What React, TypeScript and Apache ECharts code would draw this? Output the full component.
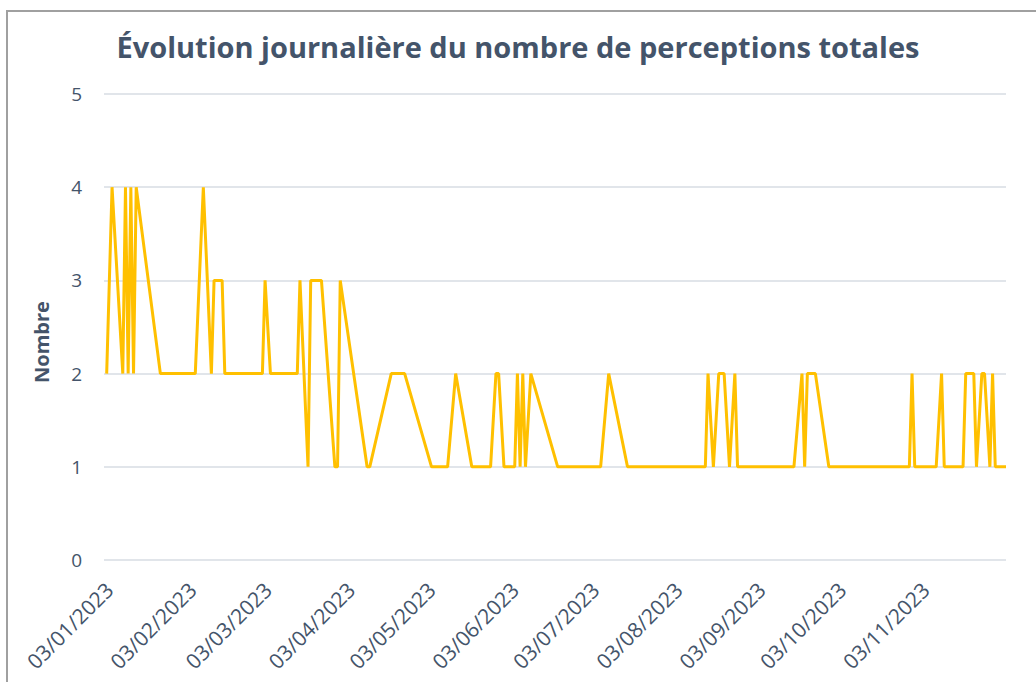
import React, { useEffect, useRef } from "react";
import * as echarts from "echarts";

const dates: string[] = [
  "2023-01-02", "2023-01-04", "2023-01-08", "2023-01-09", "2023-01-10", "2023-01-11", "2023-01-12", "2023-01-13",
  "2023-01-22", "2023-02-04", "2023-02-07", "2023-02-10", "2023-02-11", "2023-02-14", "2023-02-15",
  "2023-03-01", "2023-03-02", "2023-03-04", "2023-03-14", "2023-03-15", "2023-03-18", "2023-03-19", "2023-03-23",
  "2023-03-28", "2023-03-29", "2023-03-30", "2023-04-09", "2023-04-10", "2023-04-18", "2023-04-23",
  "2023-05-03", "2023-05-09", "2023-05-12", "2023-05-18", "2023-05-25", "2023-05-27", "2023-05-28", "2023-05-30",
  "2023-06-03", "2023-06-04", "2023-06-05", "2023-06-06", "2023-06-07", "2023-06-09", "2023-06-19",
  "2023-07-05", "2023-07-08", "2023-07-15", "2023-08-13", "2023-08-14", "2023-08-16", "2023-08-18", "2023-08-20",
  "2023-08-22", "2023-08-24", "2023-08-25", "2023-09-15", "2023-09-18", "2023-09-19", "2023-09-20", "2023-09-23",
  "2023-09-28", "2023-10-28", "2023-10-29", "2023-10-30", "2023-11-07", "2023-11-09", "2023-11-10", "2023-11-17",
  "2023-11-18", "2023-11-21", "2023-11-22", "2023-11-24", "2023-11-25", "2023-11-27", "2023-11-28", "2023-11-29",
  "2023-12-03",
];

const values: number[] = [
  2, 4, 2, 4, 2, 4, 2, 4,
  2, 2, 4, 2, 3, 3, 2,
  2, 3, 2, 2, 3, 1, 3, 3,
  1, 1, 3, 1, 1, 2, 2,
  1, 1, 2, 1, 1, 2, 2, 1,
  1, 2, 1, 2, 1, 2, 1,
  1, 2, 1, 1, 2, 1, 2, 2,
  1, 2, 1, 1, 2, 1, 2, 2,
  1, 1, 2, 1, 1, 2, 1, 1,
  2, 2, 1, 2, 2, 1, 2, 1,
  1,
];

const tickDates: string[] = [
  "2023-01-03", "2023-02-03", "2023-03-03", "2023-04-03", "2023-05-03", "2023-06-03",
  "2023-07-03", "2023-08-03", "2023-09-03", "2023-10-03", "2023-11-03",
];

const axisStart = "2023-01-01";
const axisEnd = "2023-12-03";

const titleText = "Évolution journalière du nombre de perceptions totales";
const yName = "Nombre";

function ts(s: string): number {
  const [y, m, d] = s.split("-").map(Number);
  return Date.UTC(y, m - 1, d);
}

function fmt(v: number): string {
  const d = new Date(v);
  const dd = String(d.getUTCDate()).padStart(2, "0");
  const mm = String(d.getUTCMonth() + 1).padStart(2, "0");
  return `${dd}/${mm}/${d.getUTCFullYear()}`;
}

const TEXT = "#44546A";
const FONT = "'Open Sans', 'Noto Sans', sans-serif";

export default function App() {
  const ref = useRef<HTMLDivElement>(null);

  useEffect(() => {
    if (!ref.current) return;
    const chart = echarts.init(ref.current, undefined, { renderer: "svg" });
    chart.setOption({
      animation: false,
      textStyle: { fontFamily: FONT },
      title: {
        text: titleText,
        left: "center",
        top: 27,
        textStyle: { fontFamily: FONT, fontSize: 29, fontWeight: "bold", color: TEXT },
      },
      grid: { left: 104, right: 30, top: 94, bottom: 122, containLabel: false, outerBoundsMode: "none" },
      xAxis: {
        type: "value",
        min: ts(axisStart),
        max: ts(axisEnd),
        axisLine: { show: false },
        axisTick: { show: false },
        splitLine: { show: false },
        axisLabel: {
          customValues: tickDates.map(ts),
          rotate: 45,
          formatter: (v: number) => fmt(v),
          fontSize: 21,
          color: TEXT,
          fontFamily: FONT,
          margin: 26,
          hideOverlap: false,
        },
      },
      yAxis: {
        type: "value",
        min: 0,
        max: 5,
        interval: 1,
        axisLine: { show: false },
        axisTick: { show: false },
        axisLabel: { fontSize: 19, color: TEXT, fontFamily: FONT, margin: 22 },
        splitLine: { lineStyle: { color: "#e1e5ea", width: 2 } },
      },
      graphic: [
        {
          type: "text",
          x: 41,
          y: 342,
          rotation: Math.PI / 2,
          style: {
            text: yName,
            fill: TEXT,
            font: `bold 20px ${FONT}`,
            align: "center",
            verticalAlign: "middle",
          },
        },
      ],
      series: [
        {
          type: "line",
          data: dates.map((d, i) => [ts(d), values[i]]),
          showSymbol: false,
          lineStyle: { color: "#FFC000", width: 3 },
          itemStyle: { color: "#FFC000" },
        },
      ],
    });
    return () => chart.dispose();
  }, []);

  return (
    <div style={{ position: "fixed", left: 0, top: 0, width: 1036, height: 682, overflow: "hidden", background: "#fff" }}>
      <div
        style={{
          position: "absolute",
          left: 6,
          top: 10,
          width: 1100,
          height: 800,
          border: "2px solid #a0a0a0",
          boxSizing: "border-box",
        }}
      />
      <div ref={ref} style={{ position: "absolute", left: 0, top: 0, width: 1036, height: 682 }} />
    </div>
  );
}
